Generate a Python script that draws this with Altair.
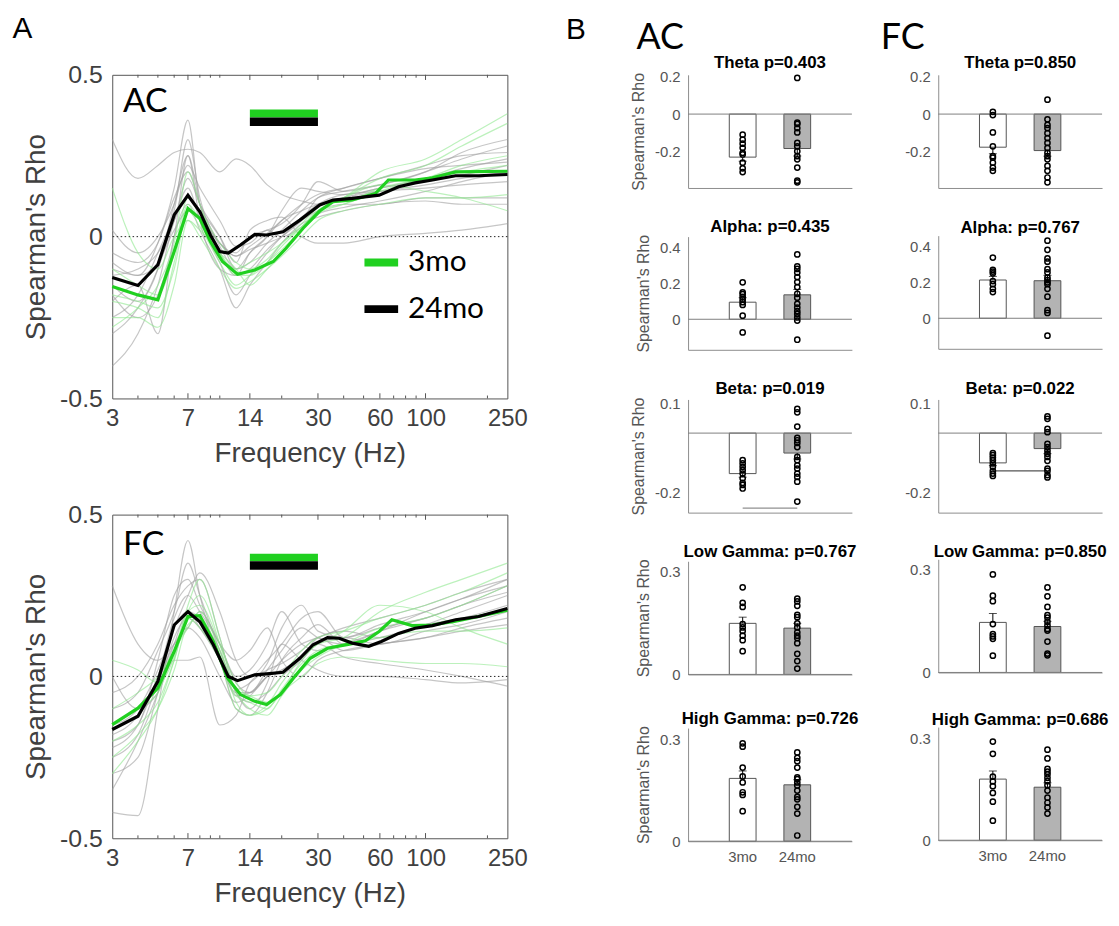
import altair as alt
import pandas as pd

# ---------------- Panel A data ----------------
FREQS = [3, 4, 5, 6, 7, 8, 10, 12, 14, 17, 20, 25, 30, 40, 60, 100, 150, 250]

AC_GRAY_LINES = [
    [0.30, 0.18, 0.22, 0.26, 0.27, 0.26, 0.20, 0.24, 0.22, 0.16, 0.13, 0.11, 0.10, 0.12, 0.15, 0.17, 0.19, 0.22],
    [-0.10, -0.12, -0.02, 0.15, 0.36, 0.10, -0.02, -0.05, 0.00, 0.02, 0.04, 0.10, 0.17, 0.14, 0.16, 0.20, 0.24, 0.28],
    [-0.30, -0.22, -0.10, 0.10, 0.25, 0.05, -0.10, -0.12, -0.05, 0.00, 0.05, 0.08, 0.10, 0.12, 0.14, 0.16, 0.18, 0.20],
    [-0.05, -0.08, -0.02, 0.12, 0.20, 0.10, -0.02, -0.06, -0.03, 0.01, 0.05, 0.10, 0.13, 0.15, 0.18, 0.22, 0.25, 0.26],
    [-0.40, -0.30, -0.15, 0.05, 0.15, 0.05, -0.08, -0.18, -0.12, -0.05, 0.00, 0.05, 0.08, 0.10, 0.10, 0.12, 0.12, 0.12],
    [-0.20, -0.15, -0.30, 0.00, 0.10, 0.02, -0.10, -0.22, -0.15, -0.08, -0.02, 0.04, 0.06, 0.08, 0.10, 0.11, 0.10, 0.10],
    [0.02, -0.05, 0.00, 0.10, 0.22, 0.15, 0.05, -0.03, -0.02, 0.02, 0.00, 0.03, 0.07, 0.09, 0.11, 0.14, 0.17, 0.20],
    [-0.15, -0.20, -0.10, 0.05, 0.12, 0.08, 0.00, -0.08, 0.02, 0.05, 0.06, 0.00, -0.02, -0.02, 0.00, 0.01, 0.02, 0.04],
    [-0.25, -0.18, -0.05, 0.08, 0.30, 0.12, -0.03, -0.10, -0.05, 0.00, 0.08, 0.15, 0.14, 0.13, 0.15, 0.18, 0.21, 0.24],
    [-0.12, -0.10, -0.05, 0.05, 0.18, 0.10, 0.00, -0.10, -0.08, -0.02, 0.02, 0.08, 0.12, 0.14, 0.16, 0.20, 0.26, 0.30],
    [-0.08, -0.12, -0.08, 0.02, 0.08, 0.06, -0.02, -0.06, -0.04, -0.02, 0.00, 0.06, 0.10, 0.13, 0.14, 0.15, 0.16, 0.17],
    [-0.18, -0.25, -0.18, 0.00, 0.25, 0.10, -0.05, -0.12, -0.10, -0.04, 0.00, 0.05, 0.12, 0.15, 0.18, 0.21, 0.22, 0.23],
]
AC_GREEN_LINES = [
    [0.15, -0.05, -0.10, 0.00, 0.05, 0.02, -0.05, -0.10, -0.15, -0.10, -0.05, 0.02, 0.08, 0.12, 0.18, 0.22, 0.28, 0.35],
    [-0.20, -0.22, -0.25, -0.08, 0.10, 0.05, -0.05, -0.12, -0.12, -0.08, -0.03, 0.03, 0.08, 0.12, 0.20, 0.24, 0.30, 0.38],
    [-0.25, -0.25, -0.28, -0.15, 0.05, 0.00, -0.10, -0.16, -0.14, -0.10, -0.06, 0.00, 0.05, 0.08, 0.10, 0.12, 0.12, 0.13],
    [-0.10, -0.15, -0.18, -0.05, 0.12, 0.08, -0.02, -0.08, -0.10, -0.07, -0.02, 0.03, 0.08, 0.10, 0.14, 0.18, 0.20, 0.22],
    [-0.28, -0.22, -0.15, -0.02, 0.20, 0.10, -0.05, -0.10, -0.08, -0.05, -0.02, 0.04, 0.09, 0.12, 0.16, 0.14, 0.12, 0.08],
    [-0.18, -0.20, -0.22, -0.10, 0.08, 0.03, -0.08, -0.15, -0.12, -0.08, -0.04, 0.02, 0.07, 0.10, 0.15, 0.18, 0.22, 0.25],
]
FC_GRAY_LINES = [
    [0.28, 0.10, 0.05, 0.10, 0.15, 0.20, 0.10, 0.05, 0.08, 0.15, 0.05, 0.00, 0.05, 0.08, 0.10, 0.12, 0.15, 0.18],
    [-0.42, -0.43, -0.10, 0.20, 0.42, 0.25, 0.05, -0.05, -0.05, 0.00, 0.05, 0.10, 0.12, 0.15, 0.18, 0.22, 0.26, 0.30],
    [-0.20, -0.15, 0.05, 0.25, 0.30, 0.22, 0.10, -0.02, -0.05, 0.02, 0.08, 0.15, 0.12, 0.10, 0.14, 0.18, 0.22, 0.26],
    [-0.05, 0.00, 0.10, 0.22, 0.28, 0.30, 0.12, -0.05, -0.08, -0.05, 0.00, 0.05, 0.10, 0.06, 0.04, 0.02, 0.00, -0.03],
    [-0.30, -0.25, -0.05, 0.12, 0.18, 0.15, 0.05, -0.10, -0.12, -0.05, 0.05, 0.12, 0.16, 0.10, 0.12, 0.16, 0.20, 0.25],
    [-0.15, -0.10, 0.02, 0.15, 0.25, 0.32, 0.20, 0.05, 0.00, 0.05, 0.10, 0.18, 0.20, 0.12, 0.15, 0.18, 0.22, 0.28],
    [-0.35, -0.20, -0.05, 0.10, 0.20, 0.18, 0.08, -0.05, -0.10, -0.02, 0.10, 0.05, 0.02, 0.00, 0.00, -0.01, -0.02, -0.01],
    [-0.10, -0.05, 0.08, 0.20, 0.35, 0.25, 0.08, -0.04, -0.02, 0.04, 0.15, 0.22, 0.14, 0.12, 0.16, 0.20, 0.24, 0.30],
    [-0.25, -0.18, -0.02, 0.10, 0.15, 0.12, 0.00, -0.08, -0.06, 0.00, 0.02, 0.06, 0.10, 0.12, 0.10, 0.14, 0.16, 0.20],
    [0.00, -0.10, -0.05, 0.05, 0.05, 0.06, -0.15, -0.12, -0.02, 0.02, 0.04, 0.08, 0.12, 0.08, 0.10, 0.12, 0.14, 0.16],
    [-0.18, -0.12, 0.00, 0.18, 0.25, 0.20, 0.10, 0.00, 0.02, 0.10, 0.20, 0.10, 0.08, 0.10, 0.14, 0.20, 0.24, 0.28],
    [-0.22, -0.15, 0.00, 0.15, 0.20, 0.15, 0.05, -0.06, -0.05, 0.00, 0.02, 0.06, 0.12, 0.14, 0.12, 0.16, 0.18, 0.22],
]
FC_GREEN_LINES = [
    [-0.30, -0.20, -0.10, 0.05, 0.20, 0.25, 0.10, -0.08, -0.12, -0.10, -0.05, 0.05, 0.10, 0.12, 0.20, 0.26, 0.30, 0.35],
    [-0.10, -0.05, 0.00, 0.08, 0.15, 0.20, 0.08, -0.05, -0.10, -0.12, -0.06, 0.02, 0.06, 0.10, 0.15, 0.18, 0.22, 0.28],
    [-0.20, -0.15, -0.08, 0.05, 0.18, 0.15, 0.05, -0.06, -0.08, -0.10, -0.04, 0.04, 0.08, 0.10, 0.12, 0.14, 0.14, 0.15],
    [0.05, 0.02, -0.02, 0.06, 0.22, 0.30, 0.12, -0.04, -0.06, -0.08, -0.02, 0.06, 0.10, 0.14, 0.22, 0.20, 0.15, 0.10],
    [-0.25, -0.18, -0.10, 0.02, 0.16, 0.18, 0.06, -0.10, -0.12, -0.09, -0.05, 0.00, 0.04, 0.06, 0.05, 0.04, 0.04, 0.03],
    [-0.15, -0.10, -0.05, 0.08, 0.20, 0.22, 0.10, -0.02, -0.06, -0.05, 0.00, 0.08, 0.12, 0.14, 0.18, 0.22, 0.26, 0.32],
]

AC_MEAN24_F = [3, 4, 5, 6, 7, 8, 9, 10, 11, 12.6, 14.8, 16.9, 20.3, 24.5, 30.6, 35.5, 44, 59.5, 74, 89, 108, 140, 181, 250]
AC_MEAN24_V = [-0.126, -0.151, -0.087, 0.067, 0.128, 0.077, 0.005, -0.046, -0.051, -0.026, 0.007, 0.005, 0.015,
               0.051, 0.098, 0.113, 0.118, 0.128, 0.154, 0.166, 0.175, 0.188, 0.188, 0.192]
AC_MEAN3_F = [3, 4, 5, 6, 7, 8, 9, 10.3, 12.2, 14.8, 18.2, 21, 25.4, 30.6, 35.5, 44, 57, 66, 89, 108, 140, 250]
AC_MEAN3_V = [-0.154, -0.18, -0.195, -0.046, 0.087, 0.056, -0.015, -0.077, -0.116, -0.103, -0.077, -0.036, 0.026,
              0.079, 0.108, 0.113, 0.133, 0.175, 0.175, 0.182, 0.2, 0.202]
FC_MEAN24_F = [3, 4, 5, 6, 7, 8, 9.3, 11, 12.2, 14.8, 16.9, 20.3, 24.5, 28.4, 33.4, 38, 44, 53, 61, 74, 89, 108, 140, 181, 250]
FC_MEAN24_V = [-0.164, -0.123, -0.015, 0.159, 0.2, 0.169, 0.098, 0.0, -0.013, 0.005, 0.008, 0.013, 0.056, 0.098,
               0.12, 0.118, 0.103, 0.093, 0.108, 0.133, 0.149, 0.157, 0.175, 0.185, 0.21]
FC_MEAN3_F = [3, 4, 5, 6, 7, 8, 9.3, 10.9, 12.6, 14.8, 16.9, 19.7, 22.8, 27.5, 33.4, 42.7, 51, 59.5, 68.6, 86, 108, 140, 181, 250]
FC_MEAN3_V = [-0.149, -0.098, -0.036, 0.077, 0.185, 0.188, 0.108, -0.005, -0.056, -0.077, -0.087, -0.056, -0.005,
              0.056, 0.087, 0.1, 0.11, 0.139, 0.175, 0.157, 0.159, 0.171, 0.185, 0.205]

SIG_FREQ = [14, 30]
AC_SIG_GREEN = [0.368, 0.393]
AC_SIG_BLACK = [0.342, 0.368]
FC_SIG_GREEN = [0.356, 0.379]
FC_SIG_BLACK = [0.330, 0.356]

X_TICKS = [3, 7, 14, 30, 60, 100, 250]
MAJOR_TICKS = [7, 14, 30, 60, 100]
MINOR_TICKS = [4, 5, 6, 8, 9, 10, 20, 40, 50, 70, 80, 90, 200]

# ---------------- Panel B data ----------------
GROUPS = ["3mo", "24mo"]
AC_TITLES = ["Theta p=0.403", "Alpha: p=0.435", "Beta: p=0.019", "Low Gamma: p=0.767", "High Gamma: p=0.726"]
FC_TITLES = ["Theta p=0.850", "Alpha: p=0.767", "Beta: p=0.022", "Low Gamma: p=0.850", "High Gamma: p=0.686"]

AC_PTS_3 = [
    [-0.11, -0.137, -0.158, -0.18, -0.207, -0.216, -0.26, -0.29, -0.31],
    [0.206, 0.15, 0.14, 0.125, 0.11, 0.095, 0.08, 0.02, -0.073],
    [-0.091, -0.102, -0.113, -0.124, -0.136, -0.152, -0.167, -0.174, -0.186],
    [0.254, 0.209, 0.197, 0.147, 0.137, 0.127, 0.113, 0.1, 0.068],
    [0.29, 0.28, 0.218, 0.192, 0.174, 0.145, 0.137, 0.089],
]
AC_PTS_24 = [
    [0.193, -0.046, -0.053, -0.075, -0.098, -0.154, -0.172, -0.198, -0.225, -0.242, -0.286, -0.356, -0.365],
    [0.361, 0.295, 0.28, 0.26, 0.235, 0.207, 0.179, 0.142, 0.12, 0.086, 0.065, 0.045, 0.03, 0.01, -0.007, -0.114],
    [0.081, 0.07, 0.022, -0.016, -0.024, -0.033, -0.047, -0.08, -0.091, -0.108, -0.119, -0.136, -0.147, -0.163, -0.23],
    [0.221, 0.213, 0.2, 0.174, 0.167, 0.149, 0.137, 0.123, 0.113, 0.106, 0.091, 0.06, 0.039, 0.017],
    [0.263, 0.247, 0.237, 0.218, 0.189, 0.184, 0.174, 0.165, 0.15, 0.131, 0.124, 0.102, 0.082, 0.017],
]
FC_PTS_3 = [
    [0.012, -0.005, -0.098, -0.172, -0.225, -0.233, -0.26, -0.286, -0.303],
    [0.338, 0.27, 0.26, 0.25, 0.207, 0.19, 0.164, 0.146],
    [-0.067, -0.074, -0.082, -0.091, -0.102, -0.113, -0.127, -0.136, -0.144],
    [0.286, 0.224, 0.208, 0.141, 0.112, 0.105, 0.098, 0.049],
    [0.292, 0.256, 0.188, 0.174, 0.16, 0.14, 0.114, 0.058],
]
FC_PTS_24 = [
    [0.077, -0.028, -0.058, -0.075, -0.102, -0.128, -0.154, -0.181, -0.207, -0.225, -0.242, -0.277, -0.303, -0.339, -0.365],
    [0.432, 0.381, 0.333, 0.315, 0.273, 0.255, 0.226, 0.213, 0.2, 0.19, 0.164, 0.12, 0.045, 0.03, -0.097],
    [0.056, 0.048, 0.014, 0.003, -0.036, -0.047, -0.058, -0.069, -0.08, -0.093, -0.119, -0.127, -0.141, -0.149],
    [0.248, 0.222, 0.191, 0.167, 0.16, 0.148, 0.137, 0.127, 0.122, 0.09, 0.055, 0.05],
    [0.268, 0.242, 0.211, 0.203, 0.195, 0.185, 0.175, 0.163, 0.147, 0.126, 0.111, 0.097, 0.079],
]
AC_MEANS = [[-0.23, -0.184], [0.095, 0.136], [-0.136, -0.067], [0.149, 0.135], [0.186, 0.167]]
AC_SEMS = [[0.022, 0.04], [0.025, 0.03], [0.012, 0.02], [0.018, 0.014], [0.022, 0.015]]
FC_MEANS = [[-0.177, -0.195], [0.213, 0.209], [-0.1, -0.052], [0.146, 0.134], [0.181, 0.157]]
FC_SEMS = [[0.035, 0.03], [0.02, 0.03], [0.009, 0.017], [0.026, 0.015], [0.024, 0.013]]
Y_DOMAINS = [[-0.395, 0.21], [-0.17, 0.46], [-0.267, 0.113], [0, 0.33], [0, 0.335]]
Y_TICKS = [[-0.2, 0, 0.2], [0, 0.2, 0.4], [-0.2, -0.1, 0, 0.1], [0, 0.1, 0.2, 0.3], [0, 0.1, 0.2, 0.3]]
AC_SIG = [None, None, -0.252, None, None]
FC_SIG = [None, None, -0.127, None, None]

TXT = "#404040"
FONT = "Liberation Sans"
GREEN = "#20d020"


def long_lines(lines, prefix):
    rows = []
    for i, line in enumerate(lines):
        for f, r in zip(FREQS, line):
            rows.append({"f": f, "r": r, "id": f"{prefix}{i}"})
    return pd.DataFrame(rows)


def panel_a(label, label_r, gray, green, m3f, m3v, m24f, m24v, sig_g, sig_k, legend):
    xs = alt.Scale(type="log", domain=[3, 250], nice=False)
    ys = alt.Scale(domain=[-0.5, 0.5], nice=False)
    xax = alt.Axis(values=X_TICKS, title="Frequency (Hz)", format="d", labelFlush=False, ticks=False,
                   domain=False, grid=False, labelFontSize=24, titleFontSize=28, labelColor=TXT,
                   titleColor=TXT, titleFontWeight="normal", labelPadding=8, titlePadding=10,
                   labelFont=FONT, titleFont=FONT)
    yax = alt.Axis(values=[-0.5, 0, 0.5], labelExpr="toString(datum.value)", title="Spearman's Rho",
                   ticks=False, domain=False, grid=False, labelFontSize=25, titleFontSize=28,
                   labelColor=TXT, titleColor=TXT, titleFontWeight="normal", labelPadding=10,
                   titlePadding=9, labelFont=FONT, titleFont=FONT)
    X = alt.X("f:Q", scale=xs, axis=xax)
    Y = alt.Y("r:Q", scale=ys, axis=yax)

    gray_l = alt.Chart(long_lines(gray, "g")).mark_line(
        color="#a0a0a0", strokeWidth=1.2, opacity=0.6, interpolate="monotone"
    ).encode(X, Y, detail="id:N")
    green_l = alt.Chart(long_lines(green, "n")).mark_line(
        color="#8fe88f", strokeWidth=1.2, opacity=0.6, interpolate="monotone"
    ).encode(X, Y, detail="id:N")
    zero = alt.Chart(pd.DataFrame({"r": [0]})).mark_rule(
        color="#222", strokeDash=[1.5, 2.5], strokeWidth=1
    ).encode(y=alt.Y("r:Q", scale=ys))

    cscale = alt.Scale(domain=GROUPS, range=[GREEN, "#000000"])
    m3 = alt.Chart(pd.DataFrame({"f": m3f, "r": m3v, "g": "3mo"})).mark_line(strokeWidth=3.2).encode(
        X, Y, color=alt.Color("g:N", scale=cscale, legend=legend))
    m24 = alt.Chart(pd.DataFrame({"f": m24f, "r": m24v, "g": "24mo"})).mark_line(strokeWidth=3.2).encode(
        X, Y, color=alt.Color("g:N", scale=cscale, legend=legend))

    sig = pd.DataFrame({
        "f": [SIG_FREQ[0], SIG_FREQ[0]], "f2": [SIG_FREQ[1], SIG_FREQ[1]],
        "r": [sig_g[0], sig_k[0]], "r2": [sig_g[1], sig_k[1]], "c": [GREEN, "#000000"],
    })
    sig_r = alt.Chart(sig).mark_rect().encode(
        x="f:Q", x2="f2:Q", y="r:Q", y2="r2:Q", color=alt.Color("c:N", scale=None))

    ticks_df = pd.DataFrame({"f": MAJOR_TICKS + MINOR_TICKS,
                             "len": [0.016] * len(MAJOR_TICKS) + [0.009] * len(MINOR_TICKS)})
    ticks_df["b0"] = -0.5
    ticks_df["b1"] = -0.5 + ticks_df["len"]
    ticks_df["t0"] = 0.5
    ticks_df["t1"] = 0.5 - ticks_df["len"]
    tb = alt.Chart(ticks_df).mark_rule(color="#555", strokeWidth=1).encode(x="f:Q", y="b0:Q", y2="b1:Q")
    tt = alt.Chart(ticks_df).mark_rule(color="#555", strokeWidth=1).encode(x="f:Q", y="t0:Q", y2="t1:Q")

    lab = alt.Chart(pd.DataFrame({"f": [3.38], "r": [label_r], "t": [label]})).mark_text(
        align="left", baseline="middle", fontSize=34, font="Lato", color="black"
    ).encode(x="f:Q", y="r:Q", text="t:N")

    return alt.layer(gray_l, green_l, zero, m3, m24, sig_r, tb, tt, lab).properties(
        width=398, height=326, view=alt.ViewBackground(stroke="#555", strokeWidth=1))


def panel_b(title, p3, p24, means, sems, dom, ticks, ytitle, xlabels, sig, sig_color):
    xs = alt.Scale(domain=GROUPS, paddingInner=0.51, paddingOuter=0.755)
    ys = alt.Scale(domain=dom, nice=False, zero=False)
    xax = alt.Axis(title=None, labels=xlabels, ticks=False, domain=True, domainColor="#8c8c8c",
                   labelAngle=0, labelFontSize=15, labelColor="#555", labelPadding=8, grid=False,
                   labelFont=FONT)
    yax = alt.Axis(values=ticks, labelExpr="toString(datum.value)",
                   title="Spearman's Rho" if ytitle else None, ticks=False, domain=True,
                   domainColor="#8c8c8c", grid=False, labelFontSize=15, labelColor="#555",
                   titleFontSize=16, titleColor="#555", titleFontWeight="normal", labelPadding=8,
                   titlePadding=8, labelFont=FONT, titleFont=FONT)
    X = alt.X("g:N", scale=xs, axis=xax, sort=GROUPS)

    bar_df = pd.DataFrame({"g": GROUPS, "m": means, "s": sems})
    bar_df["lo"] = bar_df["m"] - bar_df["s"]
    bar_df["hi"] = bar_df["m"] + bar_df["s"]
    bar_df["cap"] = [m + s if m >= 0 else m - s for m, s in zip(means, sems)]

    err = alt.Chart(bar_df).mark_rule(color="black", strokeWidth=1).encode(
        X, alt.Y("lo:Q", scale=ys, axis=yax), y2="hi:Q")
    cap = alt.Chart(bar_df).mark_tick(color="black", thickness=1, size=8).encode(X, y="cap:Q")
    bars = alt.Chart(bar_df).mark_bar(stroke="#555", strokeWidth=1).encode(
        X, alt.Y("m:Q", scale=ys, axis=yax), y2=alt.datum(0),
        fill=alt.Fill("g:N", scale=alt.Scale(domain=GROUPS, range=["#ffffff", "#b3b3b3"]), legend=None))
    zero = alt.Chart(pd.DataFrame({"z": [0]})).mark_rule(color="#808080", strokeWidth=1).encode(y="z:Q")

    pts = pd.DataFrame({"g": ["3mo"] * len(p3) + ["24mo"] * len(p24), "v": p3 + p24})
    points = alt.Chart(pts).mark_point(shape="circle", filled=False, color="black", size=28,
                                       strokeWidth=1.5, opacity=1).encode(X, y="v:Q")
    layers = [err, cap, bars, zero]
    if sig is not None:
        sdf = pd.DataFrame({"a": ["3mo"], "b": ["24mo"], "y": [sig]})
        layers.append(alt.Chart(sdf).mark_rule(color=sig_color, strokeWidth=1.2).encode(
            x=alt.X("a:N", scale=xs, sort=GROUPS), x2="b:N", y="y:Q"))
    layers.append(points)
    return alt.layer(*layers).properties(
        width=165, height=114,
        title=alt.TitleParams(title, fontSize=17, fontWeight="bold", font=FONT, offset=-2, color="black"))


leg = alt.Legend(title=None, orient="none", legendX=250, legendY=168, symbolType="stroke",
                 symbolStrokeWidth=8, symbolSize=1150, labelFontSize=30, labelFont="Lato",
                 labelColor="black", rowPadding=10, labelOffset=6)

acA = panel_a("AC", 0.417, AC_GRAY_LINES, AC_GREEN_LINES, AC_MEAN3_F, AC_MEAN3_V, AC_MEAN24_F, AC_MEAN24_V,
              AC_SIG_GREEN, AC_SIG_BLACK, leg)
fcA = panel_a("FC", 0.405, FC_GRAY_LINES, FC_GREEN_LINES, FC_MEAN3_F, FC_MEAN3_V, FC_MEAN24_F, FC_MEAN24_V,
              FC_SIG_GREEN, FC_SIG_BLACK, None)

colA = alt.vconcat(acA, fcA, spacing=33).resolve_scale(color="independent").properties(
    title=alt.TitleParams("A", anchor="start", frame="bounds", fontSize=30, font=FONT,
                          fontWeight="normal", dx=-10, offset=19, color="black"))

ac_panels = [panel_b(AC_TITLES[i], AC_PTS_3[i], AC_PTS_24[i], AC_MEANS[i], AC_SEMS[i], Y_DOMAINS[i],
                     Y_TICKS[i], True, i == 4, AC_SIG[i], "#909090") for i in range(5)]
fc_panels = [panel_b(FC_TITLES[i], FC_PTS_3[i], FC_PTS_24[i], FC_MEANS[i], FC_SEMS[i], Y_DOMAINS[i],
                     Y_TICKS[i], False, i == 4, FC_SIG[i], "#555555") for i in range(5)]

colBAC = alt.vconcat(*ac_panels, spacing=27).properties(
    title=alt.TitleParams("AC", anchor="start", frame="bounds", fontSize=36, font="Lato",
                          fontWeight="normal", offset=-3, dx=6, color="black"))
colBFC = alt.vconcat(*fc_panels, spacing=31).properties(
    title=alt.TitleParams("FC", anchor="start", frame="bounds", fontSize=36, font="Lato",
                          fontWeight="normal", offset=-3, dx=-24, color="black"))

right = alt.hconcat(colBAC, colBFC, spacing=22).properties(
    title=alt.TitleParams("B", anchor="start", frame="bounds", fontSize=30, font=FONT,
                          fontWeight="normal", dx=-65, offset=-25, color="black"))
chart = alt.hconcat(colA, right, spacing=38).configure_view(stroke=None).properties(
    padding={"left": 4, "top": 2, "right": 2, "bottom": 2})

chart.save("out.html", embed_options={"renderer": "svg", "actions": False})
